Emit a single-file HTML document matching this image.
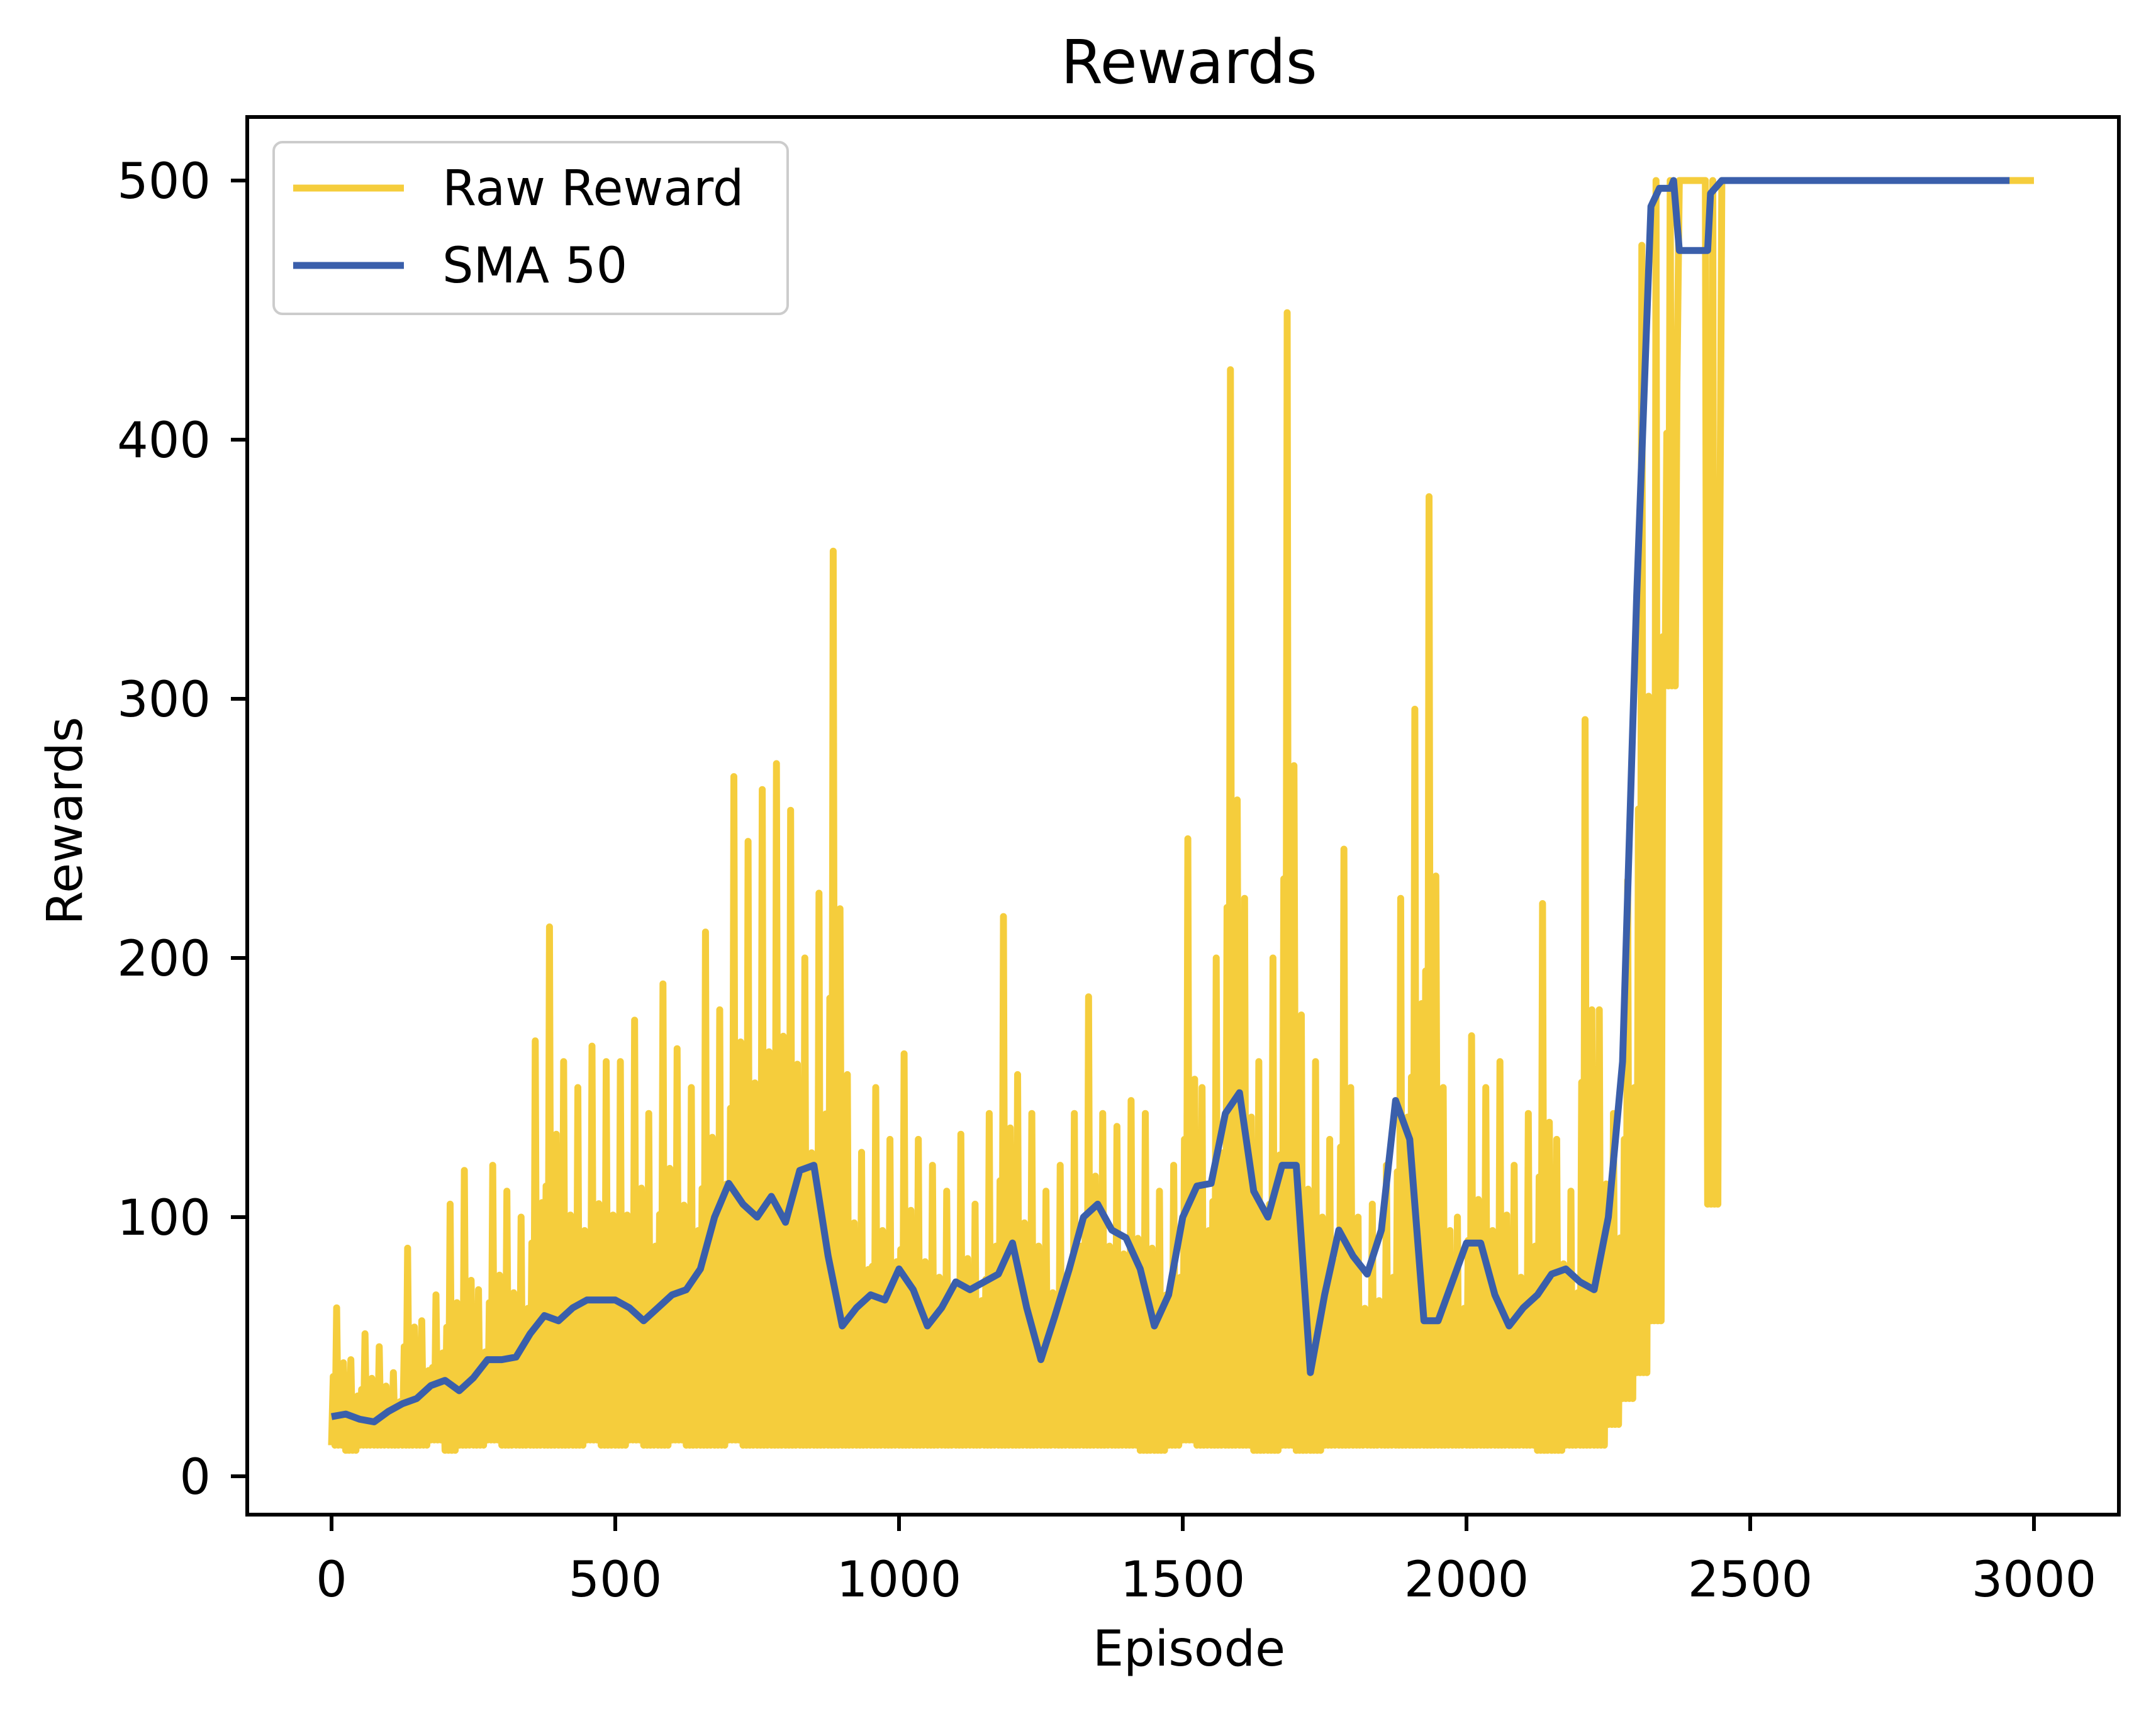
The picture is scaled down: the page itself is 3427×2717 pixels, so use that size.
<!DOCTYPE html>
<html><head><meta charset="utf-8">
<style>
html,body{margin:0;padding:0;background:#fff;}
svg{display:block;font-family:"DejaVu Sans","Liberation Sans",sans-serif;}
</style></head>
<body>
<svg id="chart" width="3427" height="2717" viewBox="0 0 3427 2717">
<rect x="0" y="0" width="3427" height="2717" fill="#fff"/>
<text x="1890" y="132" font-size="96" text-anchor="middle">Rewards</text>
<g id="plot"></g>
<text x="1890" y="2648" font-size="78" text-anchor="middle">Episode</text>
<text x="0" y="0" font-size="78" text-anchor="middle" transform="translate(130,1305) rotate(-90)">Rewards</text>
<g id="legend">
<rect x="435" y="226" width="817" height="273" rx="14" fill="#fff" fill-opacity="0.8" stroke="#ccc" stroke-width="4"/>
<line x1="466" y1="299" x2="642" y2="299" stroke="#f5cd3c" stroke-width="11"/>
<text x="703" y="326" font-size="78">Raw Reward</text>
<line x1="466" y1="422" x2="642" y2="422" stroke="#3a5fab" stroke-width="11"/>
<text x="703" y="449" font-size="78">SMA 50</text>
</g>
</svg>
<script>
// Data (25-episode bins)
const binSize = 25;
const rawHigh = [65,45,55,50, 40,88,60,70, 105,118,72,120, 110,100,168,212, 160,150,166,160,
  160,176,140,190, 165,150,210,180, 270,245,265,275, 257,200,225,357, 155,125,150,130,
  163,130,120,110, 132,105,140,216, 155,140,110,120, 140,185,140,135, 145,140,110,120,
  246,150,200,427, 223,160,200,449, 178,160,130,242, 100,105,120,223, 296,378,150,100,
  170,150,160,120, 140,221,130,110, 292,180,140,230, 475,500,500,500, 500,500,500,500,
  500,500,500,500, 500,500,500,500, 500,500,500,500, 500,500,500,500, 500,500,500,500];
const rawLow = [12,10,12,12, 12,12,12,14, 10,12,12,14, 12,12,12,12, 12,12,14,12,
  12,14,12,12, 14,12,12,12, 14,12,12,12, 12,12,12,12, 12,12,12,12,
  12,12,12,12, 12,12,12,12, 12,12,12,12, 12,12,12,12, 12,10,10,12,
  14,12,12,12, 12,10,10,12, 10,10,12,12, 12,12,12,12, 12,12,12,12,
  12,12,12,12, 12,10,10,12, 12,12,20,30, 40,60,305,500, 500,105,500,500,
  500,500,500,500, 500,500,500,500, 500,500,500,500, 500,500,500,500, 500,500,500,500];
const smaEpisodes = [0,25,50,75,100,125,150,175,200,225,250,275,300,325,350,375,400,425,450,475,500,525,550,575,600,625,650,675,700,725,750,775,800,825,850,875,900,925,950,975,1000,1025,1050,1075,1100,1125,1150,1175,1200,1225,1250,1275,1300,1325,1350,1375,1400,1425,1450,1475,1500,1525,1550,1575,1600,1625,1650,1675,1700,1725,1750,1775,1800,1825,1850,1875,1900,1925,1950,1975,2000,2025,2050,2075,2100,2125,2150,2175,2200,2225,2250,2275,2300,2325,2340,2360,2365,2375,2400,2425,2430,2450,2957];
const smaValues = [23,24,22,21,25,28,30,35,37,33,38,45,45,46,55,62,60,65,68,68,68,65,60,65,70,72,80,100,113,105,100,108,98,118,120,85,58,65,70,68,80,72,58,65,75,72,75,78,90,65,45,62,80,100,105,95,92,80,58,70,100,112,113,140,148,110,100,120,120,40,70,95,85,78,95,145,130,60,60,75,90,90,70,58,65,70,78,80,75,72,100,160,340,490,497,497,500,473,473,473,495,500,500];
const xTicks = [0,500,1000,1500,2000,2500,3000];
const yTicks = [0,100,200,300,400,500];

const X0 = 527, XS = 0.902;
const Y0 = 2347, YS = (2347-287)/500;
function xs(e){return X0 + e*XS;}
function ys(v){return Y0 - v*YS;}

const NS = "http://www.w3.org/2000/svg";
const plot = document.getElementById('plot');
function mk(tag, attrs){const el=document.createElementNS(NS,tag);for(const k in attrs)el.setAttribute(k,attrs[k]);return el;}

let pts = [];
for(let i=0;i<rawHigh.length;i++){
  const e = i*binSize, hi=rawHigh[i], lo=rawLow[i];
  const b1 = lo + 0.5*(hi-lo), b2 = lo + 0.35*(hi-lo), b3 = lo + 0.6*(hi-lo);
  pts.push([e,lo],[e+3,b1],[e+6,lo],[e+9,hi],[e+12,lo],[e+15,b2],[e+18,lo],[e+21,b3]);
}
pts.push([3000,500]);
const raw = mk('polyline',{points:pts.map(p=>xs(Math.min(p[0],3000)).toFixed(1)+','+ys(p[1]).toFixed(1)).join(' '),fill:'none',stroke:'#f5cd3c','stroke-width':11,'stroke-linejoin':'round'});


plot.appendChild(raw);

const sma = mk('polyline',{points:smaEpisodes.map((e,i)=>xs(e).toFixed(1)+','+ys(smaValues[i]).toFixed(1)).join(' '),fill:'none',stroke:'#3a5fab','stroke-width':11,'stroke-linejoin':'round'});


plot.appendChild(sma);

const frame = mk('rect',{x:393,y:186,width:2975,height:2222,fill:'none',stroke:'#000','stroke-width':6});


plot.appendChild(frame);

xTicks.forEach(t=>{
  const x = xs(t);
  const tk = mk('line',{x1:x,y1:2408,x2:x,y2:2434,stroke:'#000','stroke-width':6});
  
  
  plot.appendChild(tk);
  const lb = mk('text',{x:x,y:2538,'font-size':78,'text-anchor':'middle'});
  lb.textContent = t;
  
  
  plot.appendChild(lb);
});
yTicks.forEach(t=>{
  const y = ys(t);
  const tk = mk('line',{x1:367,y1:y,x2:393,y2:y,stroke:'#000','stroke-width':6});
  
  
  plot.appendChild(tk);
  const lb = mk('text',{x:335,y:y+28,'font-size':78,'text-anchor':'end'});
  lb.textContent = t;
  
  
  plot.appendChild(lb);
});
</script>
</body></html>
